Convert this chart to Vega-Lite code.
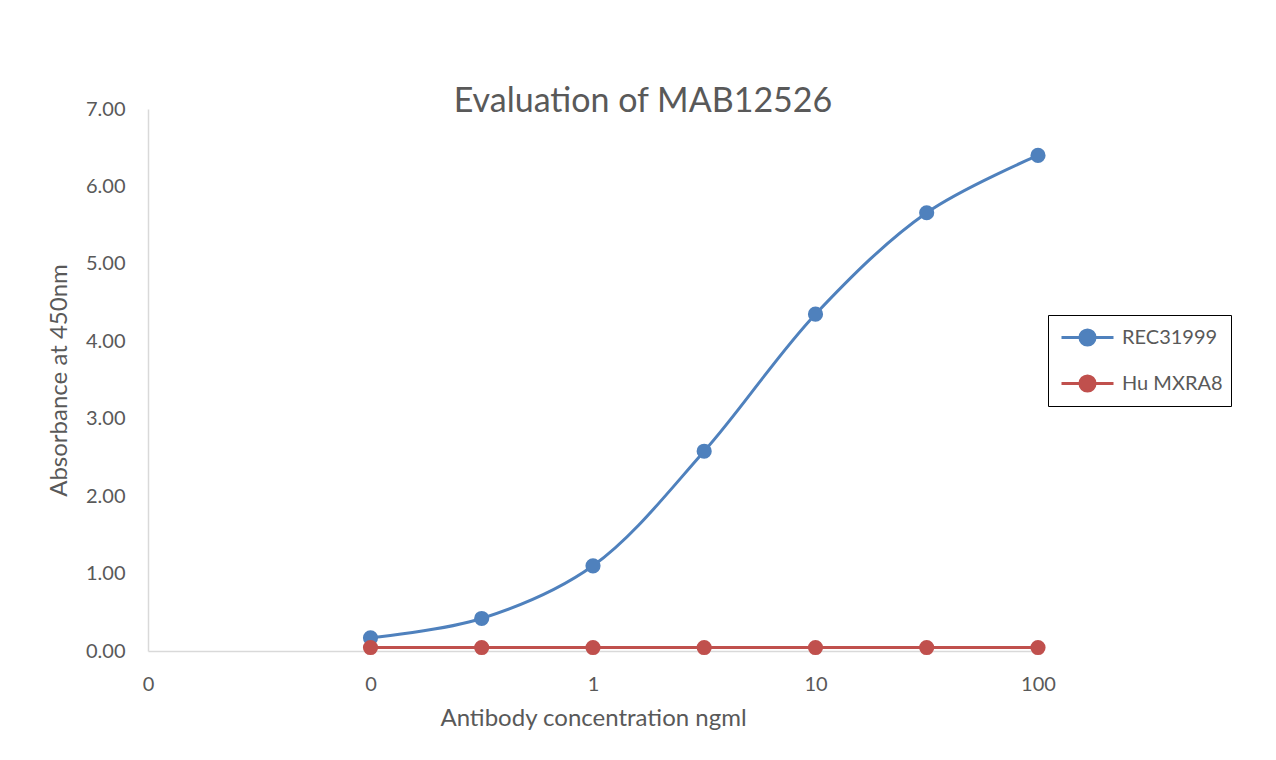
{
  "$schema": "https://vega.github.io/schema/vega-lite/v6.json",
  "autosize": "none",
  "width": 890,
  "height": 542,
  "padding": {"left": 148, "top": 109, "right": 238, "bottom": 109},
  "background": "white",
  "config": {
    "font": "Lato",
    "view": {"stroke": null},
    "axis": {"labelFont": "Lato", "titleFont": "Lato", "labelColor": "#595959", "titleColor": "#595959", "titleFontWeight": "normal", "grid": false, "ticks": false, "domainColor": "#D9D9D9", "domainWidth": 1.5}
  },
  "title": {"text": "Evaluation of MAB12526", "fontSize": 34, "font": "Lato", "fontWeight": "normal", "color": "#595959", "anchor": "middle", "dx": 50, "offset": -20},
  "datasets": {
    "d": [
      {"conc": 0.1, "abs": 0.17, "series": "REC31999"},
      {"conc": 0.316, "abs": 0.42, "series": "REC31999"},
      {"conc": 1, "abs": 1.10, "series": "REC31999"},
      {"conc": 3.16, "abs": 2.58, "series": "REC31999"},
      {"conc": 10, "abs": 4.35, "series": "REC31999"},
      {"conc": 31.6, "abs": 5.66, "series": "REC31999"},
      {"conc": 100, "abs": 6.40, "series": "REC31999"},
      {"conc": 0.1, "abs": 0.045, "series": "Hu MXRA8"},
      {"conc": 0.316, "abs": 0.045, "series": "Hu MXRA8"},
      {"conc": 1, "abs": 0.045, "series": "Hu MXRA8"},
      {"conc": 3.16, "abs": 0.045, "series": "Hu MXRA8"},
      {"conc": 10, "abs": 0.045, "series": "Hu MXRA8"},
      {"conc": 31.6, "abs": 0.045, "series": "Hu MXRA8"},
      {"conc": 100, "abs": 0.045, "series": "Hu MXRA8"}
    ]
  },
  "data": {"name": "d"},
  "encoding": {
    "x": {"field": "conc", "type": "quantitative", "scale": {"type": "log", "domain": [0.01, 100], "nice": false},
      "axis": {"values": [0.01, 0.1, 1, 10, 100], "format": ".0f", "labelFontSize": 20, "labelPadding": 23, "title": "Antibody concentration ngml", "titleFontSize": 24, "titlePadding": 12, "labelFlush": false, "labelOverlap": false}},
    "y": {"field": "abs", "type": "quantitative", "scale": {"domain": [0, 7], "nice": false},
      "axis": {"values": [0, 1, 2, 3, 4, 5, 6, 7], "format": ".2f", "labelFontSize": 20, "labelPadding": 23, "title": "Absorbance at 450nm", "titleFontSize": 24, "titlePadding": 14}},
    "color": {"field": "series", "type": "nominal", "sort": ["REC31999", "Hu MXRA8"],
      "scale": {"domain": ["REC31999", "Hu MXRA8"], "range": ["#4F81BD", "#C0504D"]},
      "legend": {"title": null, "orient": "none", "legendX": 900, "legendY": 206, "strokeColor": "black", "padding": 8, "labelFontSize": 20, "labelFont": "Lato", "labelColor": "#595959", "labelOffset": 20, "symbolOffset": 17, "rowPadding": 17, "symbolType": "M-2,0H2M-0.58,0A0.58,0.58 0 1,0 0.58,0A0.58,0.58 0 1,0 -0.58,0Z", "symbolSize": 676, "symbolStrokeWidth": 3}}
  },
  "layer": [
    {"mark": {"type": "line", "interpolate": "catmull-rom", "strokeWidth": 3}},
    {"mark": {"type": "point", "filled": true, "size": 230, "opacity": 1}}
  ]
}
